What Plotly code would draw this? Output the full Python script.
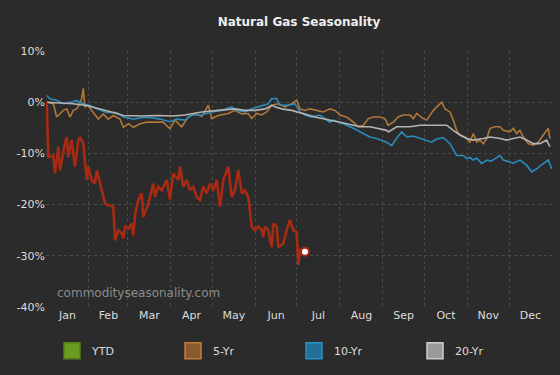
import plotly.graph_objects as go
import pandas as pd

# ---- data (day of year, % change) ----
ytd_days = [0.5, 1.7, 5.3, 6.5, 8.9, 10.1, 13.7, 14.9, 16.1, 18.5, 20.9, 23.3, 24.5, 26.9, 29.4, 30.5, 33, 35.3, 36.6, 39,
            42.6, 44.9, 48.5, 49.8, 52.2, 54.6, 55.8, 57, 59.4, 61.8, 63, 64.2, 66.6, 69, 70.2, 73.8, 76.2, 77.4, 78.6, 81,
            83.5, 87.1, 89.4, 91.8, 95.5, 96.7, 99, 101.5, 103.9, 106.2, 108.7, 111.1, 113.5, 115.9, 118.3, 120.7, 123.1,
            125.5, 127.9, 130.3, 131.5, 133.9, 136.3, 138.7, 141.2, 143.5, 145.9, 148.4, 150.8, 153.1, 155.6, 156.7, 158,
            160.3, 162.8, 163.9, 166.4, 167.6, 171.2, 173.6, 176, 178.4, 180.8, 182, 183.2, 186.8]
ytd_vals = [0, -10.7, -10.4, -13.9, -8.7, -13.3, -8, -6.8, -10.7, -7.4, -12.6, -7.4, -6.8, -8.1, -15.2, -12.6, -15.2, -15.9, -13.3, -15.9,
            -19.8, -20.1, -20.4, -27, -25, -25.6, -26.6, -24.3, -24.7, -23.7, -26, -22, -19.1, -17.8, -22.4, -19.8, -17.2, -15.9, -18.5, -16.5,
            -17.2, -15.2, -19, -13.9, -15.2, -12.6, -16.5, -15.2, -17.2, -16.5, -18.5, -19.1, -16.5, -17.8, -15.9, -17.2, -15.2,
            -20.4, -15.2, -13.3, -12.6, -18.5, -17.2, -13.3, -17.8, -17.2, -18.5, -24.3, -25, -24.3, -25, -26.3, -24.3,
            -25, -28.3, -23.7, -24.3, -28.3, -27.6, -25, -23, -25, -25.3, -31.8, -28.9, -29.2]

yr5_days = [0.5, 5.3, 7.7, 12.5, 14.9, 17.3, 19.7, 22.1, 24.5, 25.7, 26.9, 28.1, 29.4, 30.5, 34.1, 37.8, 41.3, 44.9, 48.5, 53.4,
            55.8, 59.4, 63, 67.8, 72.6, 77.4, 84.6, 89.4, 93, 97.9, 102.6, 107.5, 112.3, 117.1, 119.5, 124.3, 131.5, 136.3,
            141.2, 145.9, 148.4, 152, 155.6, 159.2, 162.8, 167.6, 172.4, 177.2, 180.8, 183.2, 186.8, 190.4, 195.3, 200, 204.8,
            208.5, 212.1, 216.9, 221.7, 225.3, 228.9, 232.5, 236.1, 240.9, 244.5, 246.9, 250.5, 254.1, 257.7, 262.6, 264.9,
            267.4, 272.1, 274.6, 279.4, 283, 285.4, 287.8, 291.4, 293.8, 296.2, 298.6, 302.2, 305.8, 308.2, 310.7, 313, 315.4,
            317.9, 320.3, 323.9, 327.5, 329.9, 334.7, 337.1, 339.5, 341.9, 344.3, 347.9, 351.5, 355.1, 358.7, 361.1, 362.3, 363.5]
yr5_vals = [0, -0.3, -2.9, -1.6, -1.3, -2.9, -1.6, -1.3, -0.3, 0.65, 2.7, -1, -0.6, -0.7, -2, -3.3, -2.3, -3.3, -2.6, -3.3,
            -4.9, -4.2, -4.9, -4.2, -3.9, -3.9, -3.9, -5.2, -3.5, -4.8, -2.9, -2.2, -2.8, -0.6, -3.2, -2.6, -2.2, -1.6,
            -2.3, -2.2, -3.2, -2.2, -2.5, -1.9, -0.6, -0.3, -0.9, -0.3, 0.4, -1.3, -1.6, -1.3, -1.6, -1.9, -1.3,
            -1.6, -2.5, -2.9, -3.9, -4.8, -4.5, -3.2, -2.9, -2.9, -3.2, -4.5, -3.9, -2.9, -2.5, -2.5, -3.2,
            -2.2, -3.2, -3.5, -1.6, -0.6, 0, -1.3, -1.9, -3.5, -5.5, -6.4, -6.8, -7.8, -6.1, -7.8, -7.4, -8.1,
            -7.1, -5.1, -4.8, -4.8, -5.5, -5.8, -5.1, -6.1, -5.5, -6.8, -8.1, -8.4, -7.8, -6.4, -5.5, -5.1, -7.1]

yr10_days = [0.5, 2.9, 7.7, 12.5, 17.3, 22.1, 26.9, 31.7, 36.6, 43.8, 51, 55.8, 63, 70.2, 75, 82.2, 89.4, 94.3, 100.3, 105.1,
             112.3, 119.5, 126.7, 133.9, 138, 143.5, 148.4, 152, 155.6, 160.3, 162.8, 166.4, 168.8, 174.8, 179.6, 183.2,
             186.8, 191.6, 197.6, 204.8, 207.2, 214.4, 221.7, 228.9, 233.7, 238.5, 245.7, 249.4, 253, 256.6, 260.2, 264.9,
             269.8, 273.4, 278.2, 281.8, 286.6, 291.4, 296.2, 301, 303.5, 305.8, 308.2, 310.7, 314.3, 317.9, 321, 325.1,
             327.5, 329.9, 334.7, 337.1, 341.9, 346.7, 350.3, 353.9, 358.7, 362.3, 364.8]
yr10_vals = [1.3, 0.65, 0.4, -0.3, 0, 0.3, -0.3, -0.65, -1.3, -2, -2, -2.9, -3.3, -3, -3, -3.3, -3.8, -3.3, -3.5, -2.5,
             -2.5, -1.9, -1.6, -0.9, -1.6, -1.9, -1.3, -1, -0.6, -0.3, 0.7, 0.7, -0.6, -0.6, -0.3, -1.9,
             -2.5, -2.9, -2.5, -3.9, -3.5, -4.2, -5.1, -6.1, -6.8, -7.1, -7.8, -8.5, -7, -5.8, -6.8, -6.6,
             -7.1, -7.4, -7.8, -7.2, -6.9, -8.1, -10.4, -10.4, -11, -10.8, -11.3, -10.9, -12, -11.3, -11.5, -10.7,
             -10.4, -11.3, -11.7, -11.9, -11.3, -12.3, -13.6, -13, -12, -11.3, -13]

yr20_days = [0.5, 10.1, 19.7, 29.4, 39, 48.5, 55.8, 67.8, 79.8, 91.8, 100.3, 112.3, 124.3, 136.3, 143.5, 150.8, 158, 162.8,
             165.2, 170, 177.2, 182, 189.2, 194, 200, 212.1, 221.7, 226.5, 233.7, 240.9, 245.7, 246.9, 253, 262.6, 269.8,
             279.4, 286.6, 289, 293.8, 298.6, 303.5, 308.2, 315.4, 320.3, 327.5, 332.3, 337.1, 341.9, 346.7, 351.5, 356.3,
             361.1, 363.5]
yr20_vals = [0, -0.1, -0.3, -0.65, -1.3, -2, -2.6, -2.7, -2.6, -2.7, -2.5, -1.9, -1.6, -1.3, -1.6, -1.6, -1.3, -0.6,
             -0.9, -1.3, -1.6, -1.9, -2.5, -2.9, -3.2, -3.9, -4.5, -4.8, -4.8, -5.3, -5.5, -5.8, -4.8, -4.8, -4.5,
             -4.5, -4.5, -4.5, -5.5, -6.4, -7.1, -7.4, -7.1, -6.8, -7.1, -7.4, -7.1, -6.8, -7.4, -8.1, -8.1,
             -7.4, -8.7]

series_names = ["YTD", "5-Yr", "10-Yr", "20-Yr"]
y_ticks = [-40, -30, -20, -10, 0, 10]
y_tick_labels = [f"{v}%" for v in y_ticks]

base = pd.Timestamp("2023-01-01")


def to_dates(days):
    return base + pd.to_timedelta(days, unit="D")


FONT = "DejaVu Sans"
RED = "#a82a12"
BROWN = "#b0773a"
BLUE = "#2a8bbd"
GREY = "#b4b4b4"

fig = go.Figure()
fig.add_trace(go.Scatter(x=to_dates(yr5_days), y=yr5_vals, mode="lines",
                         line=dict(color=BROWN, width=1.6), showlegend=False, hoverinfo="skip"))
fig.add_trace(go.Scatter(x=to_dates(yr10_days), y=yr10_vals, mode="lines",
                         line=dict(color=BLUE, width=1.6), showlegend=False, hoverinfo="skip"))
fig.add_trace(go.Scatter(x=to_dates(yr20_days), y=yr20_vals, mode="lines",
                         line=dict(color=GREY, width=1.6), showlegend=False, hoverinfo="skip"))
fig.add_trace(go.Scatter(x=to_dates(ytd_days), y=ytd_vals, mode="lines",
                         line=dict(color=RED, width=2.6), showlegend=False, hoverinfo="skip"))
fig.add_trace(go.Scatter(x=to_dates(ytd_days[-1:]), y=ytd_vals[-1:], mode="markers",
                         marker=dict(color="white", size=8, line=dict(color=RED, width=2)),
                         showlegend=False, hoverinfo="skip"))

# legend entries (square swatches)
legend_fill = ["#6b9b1e", "#8a5a2c", "#236f96", "#9a9a9a"]
legend_edge = ["#55801a", "#c07f3c", "#2a92c4", "#cccccc"]
for name, fc, ec in zip(series_names, legend_fill, legend_edge):
    fig.add_trace(go.Scatter(x=[None], y=[None], mode="markers", name=name,
                             marker=dict(symbol="square", size=16, color=fc, line=dict(color=ec, width=1.5))))

fig.update_layout(
    width=560, height=375,
    paper_bgcolor="#2b2b2b", plot_bgcolor="#2b2b2b",
    margin=dict(l=46, r=8, t=51, b=68),
    font=dict(family=FONT, size=11, color="#dddddd"),
    title=dict(text="<b>Natural Gas Seasonality</b>", x=(46 + 506 / 2) / 560, xanchor="center",
               y=1 - 21.5 / 375, yanchor="middle", yref="container",
               font=dict(family=FONT, size=12, color="#eeeeee")),
    xaxis=dict(type="date", range=["2023-01-01", "2024-01-01"], dtick="M1", tickformat="%b",
               ticklabelmode="period", showgrid=True, gridcolor="#4a4a4a", griddash="dot", gridwidth=1,
               zeroline=False, showline=False, ticks="", tickfont=dict(size=11, color="#dddddd")),
    yaxis=dict(range=[-40, 10], tickmode="array", tickvals=y_ticks, ticktext=y_tick_labels, showgrid=True,
               gridcolor="#4a4a4a", griddash="dot", gridwidth=1, zeroline=False, showline=False, ticks="",
               tickfont=dict(size=11, color="#dddddd")),
    legend=dict(orientation="h", x=(52 - 46) / 506, xanchor="left", y=(307 - 350.7) / 256, yanchor="middle",
                entrywidth=76, entrywidthmode="pixels", font=dict(size=11, color="#dddddd"),
                bgcolor="rgba(0,0,0,0)"),
    annotations=[dict(text="commodityseasonality.com", xref="paper", yref="paper",
                      x=(55 - 46) / 506, xanchor="left", y=(307 - 293) / 256, yanchor="middle",
                      showarrow=False, font=dict(family=FONT, size=12, color="#8c8c8c"))],
    showlegend=True,
)

fig.write_html("out.html", config={"displayModeBar": False},
               post_script="document.body.style.margin='0';document.body.style.background='#2b2b2b';")
